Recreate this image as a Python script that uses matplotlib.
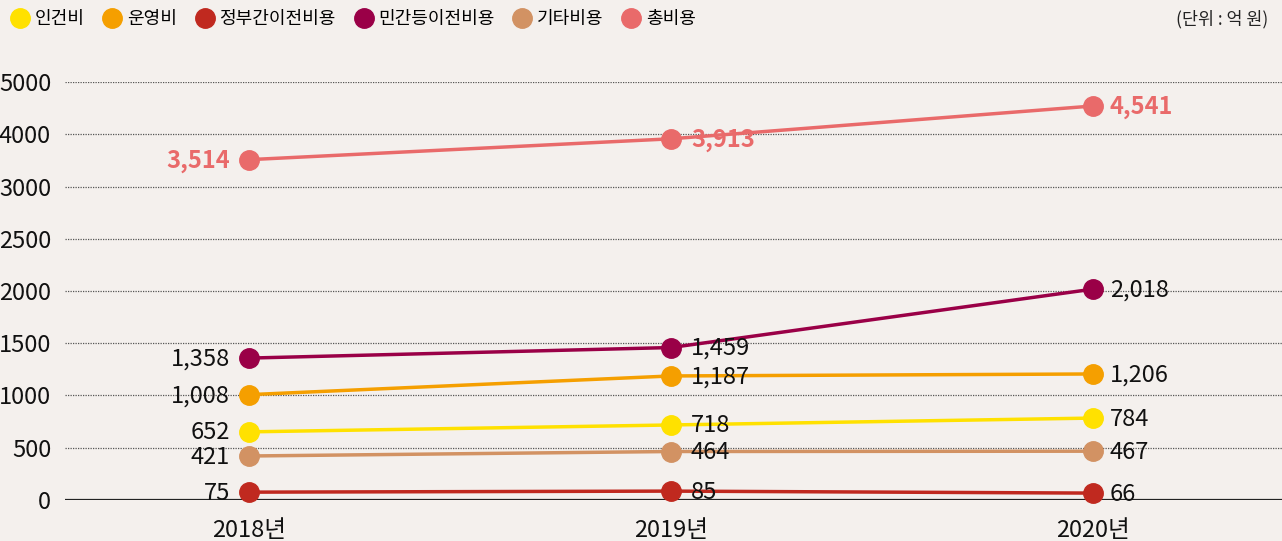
import numpy as np
import matplotlib
matplotlib.use("Agg")
import matplotlib.pyplot as plt
from matplotlib.lines import Line2D

plt.rcParams['font.family'] = ['Liberation Sans Narrow', 'Noto Sans CJK KR', 'DejaVu Sans']

years = ['2018년', '2019년', '2020년']
series_names = ['인건비', '운영비', '정부간이전비용', '민간등이전비용', '기타비용', '총비용']
labor = [652, 718, 784]
operating = [1008, 1187, 1206]
intergov = [75, 85, 66]
private = [1358, 1459, 2018]
other = [421, 464, 467]
total = [3514, 3913, 4541]
colors = ['#ffe100', '#f59f00', '#c0291f', '#9a0047', '#d29263', '#e96a6a']
yticks = [0, 500, 1000, 1500, 2000, 2500, 3000, 4000, 5000]

bg = '#f4f0ed'


def fwd(y):
    y = np.asarray(y, dtype=float)
    return np.where(y <= 3000, y, 3000 + (y - 3000) / 2.0)


def inv(u):
    u = np.asarray(u, dtype=float)
    return np.where(u <= 3000, u, 3000 + (u - 3000) * 2.0)


fig = plt.figure(figsize=(12.82, 5.41), dpi=100, facecolor=bg)
ax = fig.add_axes([0.0507, 0.0758, 0.9493, 0.7726])
ax.set_facecolor(bg)
ax.set_yscale('function', functions=(fwd, inv))
ax.set_ylim(0, 5000)
x = np.arange(len(years))
ax.set_xlim(-0.436, 2.448)

for yv in yticks[1:]:
    ax.axhline(yv, color='#555555', lw=0.9, ls=(0, (1, 1)), zorder=1)
ax.axhline(0, color='#222222', lw=1.6, zorder=2)

all_series = [labor, operating, intergov, private, other, total]
for name, vals, c in zip(series_names, all_series, colors):
    ax.plot(x, vals, color=c, lw=2.5, marker='o', markersize=14,
            clip_on=False, zorder=3)
    bold = name == '총비용'
    for i, v in enumerate(vals):
        if i == 0:
            ha, dx = 'right', -19
        elif i == 1:
            ha, dx = 'left', 20
        else:
            ha, dx = 'left', 17
        ax.annotate(f'{v:,}', (x[i], v), xytext=(dx, -1), textcoords='offset pixels',
                    ha=ha, va='center', fontsize=17,
                    color=c if bold else '#111111',
                    fontweight='bold' if bold else 'normal', zorder=4)

ax.set_yticks(yticks)
ax.set_yticklabels([str(t) for t in yticks], fontsize=17, color='#111111')
ax.set_xticks(x)
ax.set_xticklabels(years, fontsize=17, color='#111111')
ax.tick_params(axis='both', length=0)
ax.tick_params(axis='y', pad=10)
ax.tick_params(axis='x', pad=14)
for s in ax.spines.values():
    s.set_visible(False)

handles = [Line2D([], [], marker='o', ls='none', color=c, markersize=14) for c in colors]
fig.legend(handles, series_names, loc='center left', bbox_to_anchor=(-0.004, 0.964),
           ncol=6, frameon=False, handlelength=1.0, handletextpad=0.3, columnspacing=1.05,
           prop={'family': ['Noto Sans CJK KR'], 'size': 13})
fig.text(0.989, 0.964, '(단위 : 억 원)', ha='right', va='center', fontsize=12.5,
         family=['Noto Sans CJK KR'], color='#222222')

fig.savefig('out.png', dpi=100, facecolor=bg)
